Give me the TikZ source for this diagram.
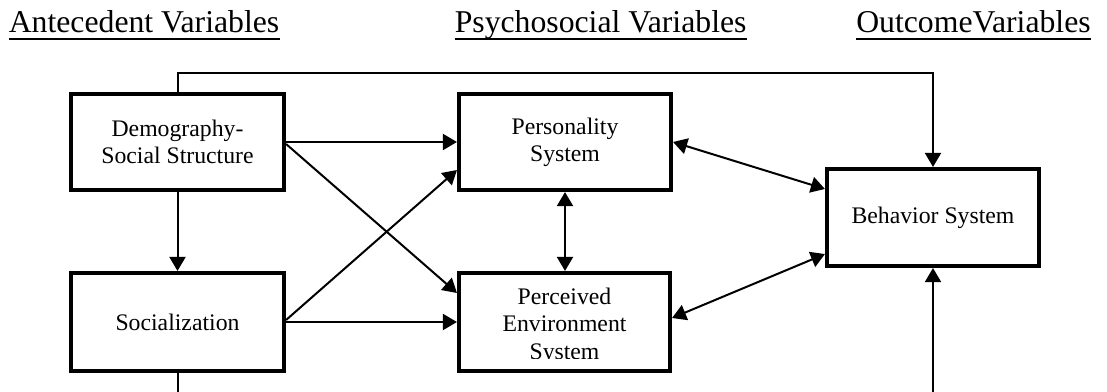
\documentclass[tikz,border=0pt]{standalone}
\usepackage{fontspec}
\setmainfont{Liberation Serif}
\usetikzlibrary{arrows.meta}
\begin{document}
\begin{tikzpicture}[x=0.75pt,y=-0.75pt,
  box/.style={draw,line width=3.1pt,inner sep=0pt,align=center,
    font=\fontsize{17.8}{20.5}\selectfont},
  head/.style={inner sep=0pt,anchor=base west,font=\fontsize{23.8}{28}\selectfont},
  ul/.style={line width=1.5pt},
  tip/.style={Triangle[length=10.5pt,width=12pt]},
  conn/.style={line width=1.5pt,-{Triangle[length=10.5pt,width=12pt]}},
  both/.style={line width=1.5pt,{Triangle[length=10.5pt,width=12pt]}-{Triangle[length=10.5pt,width=12pt]}},
  plain/.style={line width=1.5pt}]
\useasboundingbox (0,0) rectangle (1107,392);
\clip (0,0) rectangle (1107,392);
\fill[white] (0,0) rectangle (1107,392);
% headers
\node[head] (h1) at (8.5,33) {Antecedent Variables};
\node[head] (h2) at (454.5,33) {Psychosocial Variables};
\node[head] (h3) at (856,33) {OutcomeVariables};
\foreach \h in {h1,h2,h3}
  \draw[ul] ([yshift=-4.6pt]\h.base west) -- ([yshift=-4.6pt]\h.base east);
% boxes
\node[box,minimum width=159.75pt,minimum height=72pt] (dem) at (177.5,142) {Demography-\\Social Structure};
\node[box,minimum width=159.75pt,minimum height=73.5pt] (soc) at (177.5,322) {Socialization};
\node[box,minimum width=159pt,minimum height=72pt] (per) at (565,142) {Personality\\System};
\node[box,minimum width=158.25pt,minimum height=73.5pt] (env) at (564.5,322) {};
\begin{scope}
  \clip (459,273) rectangle (670,358);
  \node[box,draw=none] (envtext) at (564.5,326) {Perceived\\Environment\\System};
\end{scope}
\node[box,minimum width=159pt,minimum height=72.75pt] (beh) at (933,217.5) {Behavior System};
% connectors
\draw[conn] (dem.east) -- (dem.east -| per.west);
\draw[conn] ([yshift=-1.5pt]dem.east) -- ([yshift=21.75pt]env.west);
\draw[conn] ([yshift=1.5pt]soc.east) -- ([yshift=-21pt]per.west);
\draw[conn] (soc.east) -- (env.west);
\draw[conn] (dem.south) -- (soc.north);
\draw[both] (per.south) -- (per.south |- env.north);
\draw[both] (per.east) -- ([yshift=21.4pt]beh.west);
\draw[both] ([yshift=3pt]env.east) -- ([yshift=-27.4pt]beh.west);
\draw[conn] (dem.north) -- ++(0,-19) -| (beh.north);
\draw[conn] (soc.south) -- ++(0,40) -| (beh.south);
\end{tikzpicture}
\end{document}
